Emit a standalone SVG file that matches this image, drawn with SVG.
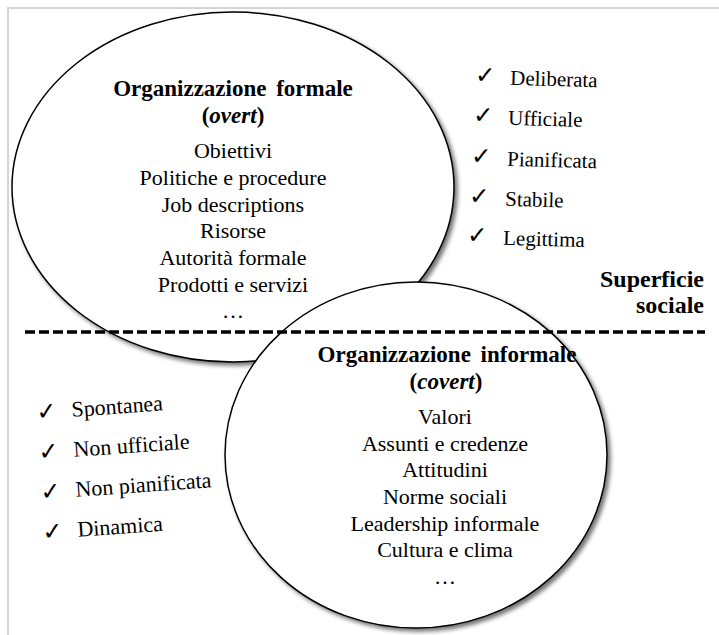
<svg xmlns="http://www.w3.org/2000/svg" width="719" height="635" viewBox="0 0 719 635">
<defs>
<filter id="sh" x="-10%" y="-10%" width="125%" height="125%">
<feDropShadow dx="3" dy="3" stdDeviation="2.2" flood-color="#000" flood-opacity="0.55"/>
</filter>
<style>
.ell{fill:#fff;stroke:#000;stroke-width:1.5}
.f{font-family:"Times New Roman",Times,"Liberation Serif","Noto Serif","DejaVu Serif",serif}
.t{font-size:22px;fill:#000;text-anchor:middle}
.h{font-weight:bold;font-size:23px;word-spacing:4px}
.ck{font-family:"DejaVu Sans","Noto Sans",sans-serif;font-size:24px;fill:#000}
.l{font-size:21px;fill:#000}
.ll{font-size:22px;fill:#000}
.sup{font-size:24px;font-weight:bold;text-anchor:end;fill:#000}
.dash{fill:none;stroke:#000;stroke-width:3.5;stroke-dasharray:10 4}
</style>
</defs>
<rect width="719" height="635" fill="#fff"/>
<path d="M8 635 V8 H719" fill="none" stroke="#d4d4d4" stroke-width="2"/>

<g id="formal" class="f">
<ellipse class="ell" cx="233" cy="187" rx="221" ry="175" filter="url(#sh)"/>
<text class="t h" x="233" y="96">Organizzazione formale</text>
<text class="t h" x="233" y="123">(<tspan font-style="italic">overt</tspan>)</text>
<text class="t" x="233" y="158">Obiettivi</text>
<text class="t" x="233" y="185">Politiche e procedure</text>
<text class="t" x="233" y="212">Job descriptions</text>
<text class="t" x="233" y="238">Risorse</text>
<text class="t" x="233" y="265">Autorità formale</text>
<text class="t" x="233" y="292">Prodotti e servizi</text>
<text class="t" x="233" y="318">…</text>
</g>

<g id="informal" class="f">
<ellipse class="ell" cx="416" cy="455" rx="191" ry="173" filter="url(#sh)"/>
<text class="t h" x="447" y="362">Organizzazione informale</text>
<text class="t h" x="446" y="389">(<tspan font-style="italic">covert</tspan>)</text>
<text class="t" x="445" y="424">Valori</text>
<text class="t" x="445" y="451">Assunti e credenze</text>
<text class="t" x="445" y="477">Attitudini</text>
<text class="t" x="445" y="504">Norme sociali</text>
<text class="t" x="445" y="531">Leadership informale</text>
<text class="t" x="445" y="557">Cultura e clima</text>
<text class="t" x="445" y="584">…</text>
</g>

<g id="surface-line">
<line class="dash" x1="25" y1="332" x2="705" y2="332"/>
</g>

<g id="surface-label" class="f">
<text class="sup" x="704" y="287">Superficie</text>
<text class="sup" x="704" y="313">sociale</text>
</g>

<g id="formal-traits" class="f">
<g transform="rotate(1.5 478 84)"><text class="ck" x="475" y="83">✓</text><text class="l" x="510" y="84">Deliberata</text></g>
<g transform="rotate(1.5 476 124)"><text class="ck" x="473" y="123">✓</text><text class="l" x="508" y="124">Ufficiale</text></g>
<g transform="rotate(1.5 474 165)"><text class="ck" x="471" y="164">✓</text><text class="l" x="507" y="165">Pianificata</text></g>
<g transform="rotate(1.5 472 205)"><text class="ck" x="469" y="204">✓</text><text class="l" x="505" y="205">Stabile</text></g>
<g transform="rotate(1.5 470 244)"><text class="ck" x="467" y="243">✓</text><text class="l" x="503" y="244">Legittima</text></g>
</g>

<g id="informal-traits" class="f">
<g transform="rotate(-4 40 419)"><text class="ck" x="37" y="420">✓</text><text class="ll" x="72" y="419">Spontanea</text></g>
<g transform="rotate(-4 42 459)"><text class="ck" x="39" y="460">✓</text><text class="ll" x="74" y="459">Non ufficiale</text></g>
<g transform="rotate(-4 44 499)"><text class="ck" x="41" y="500">✓</text><text class="ll" x="76" y="499">Non pianificata</text></g>
<g transform="rotate(-4 46 539)"><text class="ck" x="43" y="540">✓</text><text class="ll" x="78" y="539">Dinamica</text></g>
</g>
</svg>
